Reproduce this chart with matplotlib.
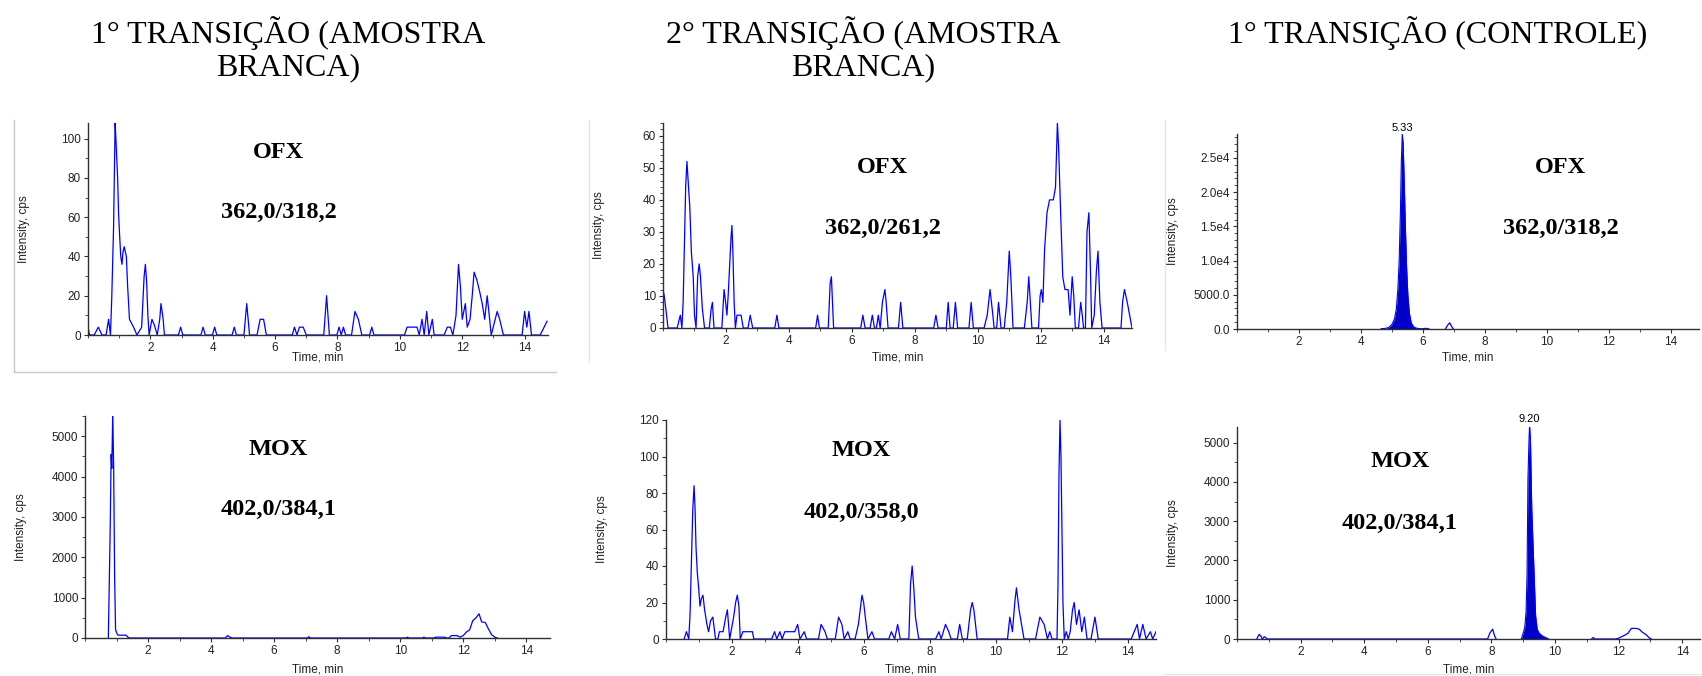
import numpy as np
import matplotlib.pyplot as plt
from matplotlib.ticker import MultipleLocator, FuncFormatter
from matplotlib.lines import Line2D

# 1a transicao, amostra branca - OFX 362,0/318,2
t_ofx_b1 = [0.0, 0.05, 0.2, 0.33, 0.45, 0.58, 0.66, 0.72, 0.76, 0.82, 0.87, 0.90, 0.95, 0.98, 1.01, 1.05, 1.09,
            1.12, 1.16, 1.23, 1.27, 1.33, 1.46, 1.57, 1.72, 1.80, 1.84, 1.88, 1.92, 1.96, 2.05, 2.13, 2.22, 2.30,
            2.34, 2.41, 2.45, 2.9, 2.97, 3.04, 3.62, 3.69, 3.76, 3.99, 4.06, 4.13, 4.62, 4.69, 4.76, 5.0, 5.09,
            5.18, 5.42, 5.52, 5.63, 5.72, 6.55, 6.62, 6.7, 6.78, 6.9, 7.0, 7.56, 7.65, 7.74, 7.98, 8.05, 8.12,
            8.19, 8.26, 8.45, 8.56, 8.67, 8.78, 9.03, 9.10, 9.17, 10.15, 10.23, 10.55, 10.62, 10.71, 10.78, 10.86,
            10.93, 11.04, 11.1, 11.42, 11.52, 11.62, 11.7, 11.8, 11.88, 11.94, 12.0, 12.05, 12.1, 12.16, 12.25,
            12.32, 12.38, 12.47, 12.56, 12.64, 12.72, 12.8, 12.84, 12.93, 13.12, 13.2, 13.32, 13.92, 14.0, 14.07,
            14.14, 14.22, 14.5, 14.72]
i_ofx_b1 = [4, 0, 0, 4, 0, 0, 8, 0, 18, 55, 108, 98, 80, 62, 52, 40, 36,
            42, 45, 40, 25, 8, 4, 0, 4, 30, 36, 27, 10, 0, 8, 5, 0, 8,
            16, 8, 0, 0, 4, 0, 0, 4, 0, 0, 4, 0, 0, 4, 0, 0, 16,
            0, 0, 8, 8, 0, 0, 4, 0, 4, 4, 0, 0, 20, 0, 0, 4, 0,
            4, 0, 0, 12, 8, 0, 0, 4, 0, 0, 4, 4, 0, 8, 0, 12,
            0, 8, 0, 0, 4, 4, 0, 10, 36, 25, 8, 12, 16, 4, 8,
            20, 32, 28, 22, 16, 8, 20, 14, 0, 12, 8, 0, 0, 12, 4,
            12, 0, 0, 7]

# 2a transicao, amostra branca - OFX 362,0/261,2
t_ofx_b2 = [0.0, 0.04, 0.09, 0.16, 0.45, 0.55, 0.6, 0.64, 0.68, 0.72, 0.76, 0.8, 0.85, 0.9, 0.96, 1.0, 1.05,
            1.1, 1.15, 1.19, 1.25, 1.32, 1.47, 1.53, 1.57, 1.62, 1.87, 1.94, 1.99, 2.03, 2.07, 2.11, 2.16, 2.19,
            2.22, 2.26, 2.3, 2.35, 2.48, 2.55, 2.7, 2.77, 2.85, 3.55, 3.62, 3.68, 4.85, 4.91, 4.97, 5.25, 5.31,
            5.35, 5.42, 6.28, 6.35, 6.42, 6.58, 6.65, 6.72, 6.78, 6.84, 6.9, 6.97, 7.05, 7.09, 7.15, 7.48, 7.55,
            7.62, 8.6, 8.67, 8.74, 9.0, 9.06, 9.12, 9.22, 9.29, 9.36, 9.72, 9.79, 9.86, 10.2, 10.3, 10.39, 10.48,
            10.52, 10.6, 10.66, 10.74, 10.84, 10.92, 11.0, 11.05, 11.12, 11.48, 11.57, 11.62, 11.67, 11.72, 11.93,
            11.98, 12.02, 12.07, 12.12, 12.2, 12.28, 12.4, 12.47, 12.53, 12.57, 12.62, 12.7, 12.77, 12.87, 12.93,
            13.0, 13.05, 13.1, 13.2, 13.27, 13.32, 13.36, 13.42, 13.47, 13.53, 13.58, 13.62, 13.7, 13.77, 13.82,
            13.88, 13.95, 14.55, 14.6, 14.66, 14.75, 14.9]
i_ofx_b2 = [12, 10, 6, 0, 0, 4, 0, 8, 26, 44, 52, 46, 38, 24, 16, 4, 0,
            16, 20, 16, 6, 0, 0, 6, 8, 0, 0, 12, 8, 4, 10, 18, 28, 32,
            24, 8, 0, 4, 4, 0, 0, 4, 0, 0, 4, 0, 0, 4, 0, 0, 14,
            16, 0, 0, 4, 0, 0, 4, 0, 0, 4, 0, 8, 12, 8, 0, 0, 8,
            0, 0, 4, 0, 0, 8, 0, 0, 8, 0, 0, 8, 0, 0, 4, 12, 4,
            0, 0, 8, 0, 0, 8, 24, 16, 0, 0, 8, 16, 8, 0, 0,
            10, 12, 8, 24, 36, 40, 40, 44, 64, 56, 40, 16, 12, 12, 4,
            16, 10, 0, 0, 8, 4, 0, 0, 30, 36, 18, 0, 4, 18, 24,
            8, 0, 0, 8, 12, 8, 0]

# 1a transicao, controle - OFX (pico preenchido + pico pequeno)
t_ofx_c_peak = [4.65, 4.8, 4.9, 5.0, 5.08, 5.14, 5.19, 5.23, 5.27, 5.30, 5.33, 5.36, 5.39, 5.43, 5.47, 5.51,
                5.56, 5.62, 5.7, 5.8, 5.95, 6.1, 6.15, 6.2]
i_ofx_c_peak = [50, 100, 250, 700, 1500, 3000, 6000, 10000, 17000, 24500, 28500, 27000, 22000, 15000, 9000, 5000,
                2300, 900, 300, 100, 40, 100, 60, 0]
t_ofx_c = [6.72, 6.8, 6.86, 6.93, 6.98]
i_ofx_c = [0, 600, 900, 300, 0]

# 1a transicao, amostra branca - MOX 402,0/384,1
t_mox_b1 = [0.74, 0.76, 0.80, 0.83, 0.85, 0.88, 0.91, 0.94, 0.97, 1.02, 1.05, 1.3, 1.36, 1.42, 4.45, 4.52,
            4.6, 4.68, 7.05, 7.1, 7.16, 10.18, 10.23, 10.28, 10.7, 10.75, 10.8, 11.05, 11.12, 11.4, 11.47, 11.55,
            11.62, 11.8, 11.9, 12.0, 12.1, 12.2, 12.3, 12.4, 12.5, 12.58, 12.7, 12.8, 12.9, 13.0, 13.08]
i_mox_b1 = [0, 900, 2750, 4550, 4200, 5600, 4150, 1500, 200, 100, 70, 70, 20, 0, 0, 60,
            20, 0, 0, 30, 0, 0, 20, 0, 0, 20, 0, 0, 20, 20, 0, 0,
            60, 60, 20, 60, 150, 200, 430, 500, 600, 400, 380, 220, 80, 20, 0]

# 2a transicao, amostra branca - MOX 402,0/358,0
t_mox_b2 = [0.55, 0.62, 0.69, 0.73, 0.77, 0.81, 0.85, 0.88, 0.91, 0.95, 0.99, 1.03, 1.07, 1.12, 1.17, 1.24,
            1.29, 1.35, 1.42, 1.5, 1.57, 1.62, 1.73, 1.81, 1.86, 1.93, 2.05, 2.11, 2.16, 2.21, 2.25, 2.33, 2.62,
            2.66, 3.2, 3.29, 3.36, 3.45, 3.52, 3.6, 3.9, 3.99, 4.06, 4.19, 4.26, 4.62, 4.7, 4.82, 4.89, 5.13,
            5.23, 5.33, 5.4, 5.51, 5.58, 5.73, 5.83, 5.94, 5.99, 6.04, 6.12, 6.24, 6.32, 6.75, 6.83, 6.93, 7.02,
            7.1, 7.36, 7.41, 7.46, 7.51, 7.56, 7.66, 8.17, 8.27, 8.34, 8.47, 8.57, 8.64, 8.83, 8.9, 8.98, 9.13,
            9.23, 9.28, 9.33, 9.43, 10.35, 10.42, 10.5, 10.57, 10.62, 10.7, 10.85, 11.2, 11.33, 11.46, 11.56,
            11.63, 11.7, 11.85, 11.88, 11.91, 11.94, 11.97, 12.0, 12.03, 12.07, 12.13, 12.19, 12.25, 12.32, 12.37,
            12.44, 12.52, 12.6, 12.68, 12.76, 12.88, 13.0, 13.1, 14.1, 14.28, 14.35, 14.45, 14.55, 14.68, 14.75,
            14.85]
i_mox_b2 = [0, 4, 0, 14, 42, 70, 84, 72, 50, 36, 28, 18, 22, 24, 16, 8,
            4, 10, 12, 0, 0, 4, 4, 12, 16, 0, 12, 20, 24, 18, 0, 4, 4,
            0, 0, 4, 0, 4, 0, 4, 4, 8, 0, 4, 0, 0, 8, 4, 0, 0,
            12, 8, 0, 4, 0, 0, 8, 24, 20, 12, 0, 4, 0, 0, 4, 0, 8,
            0, 0, 30, 40, 28, 12, 0, 0, 4, 0, 8, 4, 0, 0, 8, 0, 0,
            16, 20, 16, 0, 0, 12, 4, 20, 28, 16, 0, 0, 12, 8, 0,
            4, 0, 0, 30, 90, 120, 100, 60, 20, 0, 4, 0, 4, 16, 20,
            8, 16, 4, 12, 0, 0, 12, 0, 0, 8, 0, 8, 0, 4, 0,
            4]

# 1a transicao, controle - MOX
t_mox_c = [0.62, 0.7, 0.76, 0.8, 0.86, 0.92, 0.96, 7.88, 7.95, 8.04, 8.1, 8.15]
i_mox_c = [0, 120, 60, 0, 60, 20, 0, 0, 150, 250, 80, 0]
t_mox_c_peak = [8.94, 9.0, 9.05, 9.09, 9.12, 9.15, 9.18, 9.20, 9.23, 9.27, 9.31, 9.35, 9.39, 9.44, 9.5, 9.6,
                9.7, 9.8]
i_mox_c_peak = [0, 150, 300, 700, 1600, 4100, 5000, 5450, 5000, 3300, 2400, 1500, 600, 250, 150, 80, 40, 0]
t_mox_c2 = [11.15, 11.2, 11.26, 11.9, 12.0, 12.1, 12.2, 12.3, 12.4, 12.55, 12.65, 12.75, 12.85, 12.95, 13.03]
i_mox_c2 = [0, 40, 0, 0, 20, 60, 100, 150, 270, 270, 250, 170, 120, 40, 0]

titles = ["1° TRANSIÇÃO (AMOSTRA\nBRANCA)", "2° TRANSIÇÃO (AMOSTRA\nBRANCA)", "1° TRANSIÇÃO (CONTROLE)"]
labels = [("OFX", "362,0/318,2"), ("OFX", "362,0/261,2"), ("OFX", "362,0/318,2"),
          ("MOX", "402,0/384,1"), ("MOX", "402,0/358,0"), ("MOX", "402,0/384,1")]

W, H = 1702, 676
BLUE = "#0000ff"
FILL = "#0000c8"
AX = "#303030"


def px_axes(fig, x0, x1, ytop, ybot):
    return fig.add_axes([x0 / W, 1 - ybot / H, (x1 - x0) / W, (ybot - ytop) / H])


def style(ax, xmax, ymax, ymaj, ymin, xlab_px=24, ylab_px=58):
    ax.set_xlim(0, xmax)
    ax.set_ylim(0, ymax)
    for s in ["top", "right"]:
        ax.spines[s].set_visible(False)
    for s in ["left", "bottom"]:
        ax.spines[s].set_color(AX)
        ax.spines[s].set_linewidth(1.0)
    ax.xaxis.set_major_locator(MultipleLocator(2))
    ax.xaxis.set_minor_locator(MultipleLocator(1))
    ax.yaxis.set_major_locator(MultipleLocator(ymaj))
    ax.yaxis.set_minor_locator(MultipleLocator(ymin))
    ax.tick_params(which="major", length=3, width=0.8, color=AX, labelsize=8.5, labelcolor="#222222", pad=2)
    ax.tick_params(which="minor", length=2, width=0.6, color=AX)
    ax.set_xticks([t for t in range(2, 15, 2) if t <= xmax])
    ax.set_xlabel("Time, min", fontsize=8.5, color="#222222")
    ax.xaxis.set_label_coords(0.5, -xlab_px / (ax.get_position().height * H), transform=ax.transAxes)
    ax.set_ylabel("Intensity, cps", fontsize=8.5, color="#222222")
    ax.yaxis.set_label_coords(-ylab_px / (ax.get_position().width * W), 0.5, transform=ax.transAxes)


def compound(ax, name, mz, x, y1, y2):
    ax.text(x, y1, name, transform=ax.transAxes, ha="center", va="center",
            family="Liberation Serif", fontweight="bold", fontsize=17.5)
    ax.text(x, y2, mz, transform=ax.transAxes, ha="center", va="center",
            family="Liberation Serif", fontweight="bold", fontsize=17.5)


plt.rcParams["font.family"] = ["Liberation Sans", "DejaVu Sans"]
fig = plt.figure(figsize=(W / 100, H / 100), dpi=100)

# light frames of the pasted screenshots
fig.add_artist(Line2D([14 / W, 14 / W], [1 - 120 / H, 1 - 372 / H], color="#c8c8c8", lw=1))
fig.add_artist(Line2D([14 / W, 556 / W], [1 - 372 / H, 1 - 372 / H], color="#c8c8c8", lw=1))
fig.add_artist(Line2D([589 / W, 589 / W], [1 - 120 / H, 1 - 362 / H], color="#e6e6e6", lw=1))
fig.add_artist(Line2D([1165 / W, 1165 / W], [1 - 120 / H, 1 - 350 / H], color="#e6e6e6", lw=1))
fig.add_artist(Line2D([1165 / W, 1702 / W], [1 - 674 / H, 1 - 674 / H], color="#e6e6e6", lw=1))

fig.text(288 / W, 1 - 49 / H, titles[0], ha="center", va="center", family="Liberation Serif",
         fontsize=23, linespacing=1.12)
fig.text(863 / W, 1 - 49 / H, titles[1], ha="center", va="center", family="Liberation Serif",
         fontsize=23, linespacing=1.12)
fig.text(1438 / W, 1 - 33 / H, titles[2], ha="center", va="center", family="Liberation Serif",
         fontsize=23, linespacing=1.12)

# top row
ax1 = px_axes(fig, 88, 548, 123, 335)
ax1.plot(t_ofx_b1, i_ofx_b1, color=BLUE, lw=0.9)
style(ax1, 14.75, 108, 20, 10, xlab_px=17)
compound(ax1, *labels[0], 0.415, 0.863, 0.58)

ax2 = px_axes(fig, 663, 1132, 123, 328)
ax2.plot(t_ofx_b2, i_ofx_b2, color=BLUE, lw=0.9)
style(ax2, 14.9, 64, 10, 2)
compound(ax2, *labels[1], 0.468, 0.785, 0.488)

ax3 = px_axes(fig, 1237, 1699, 134, 329)
ax3.fill_between(t_ofx_c_peak, i_ofx_c_peak, color=FILL, lw=0)
ax3.plot(t_ofx_c_peak, i_ofx_c_peak, color=BLUE, lw=0.8)
ax3.plot(t_ofx_c, i_ofx_c, color=BLUE, lw=0.9)
style(ax3, 14.9, 28500, 5000, 1000, xlab_px=23)
ax3.yaxis.set_major_formatter(FuncFormatter(lambda v, p: "%.1f" % v if v < 10000 else "%.1fe4" % (v / 1e4)))
compound(ax3, *labels[2], 0.70, 0.826, 0.518)
k = int(np.argmax(i_ofx_c_peak))
ax3.annotate("%.2f" % t_ofx_c_peak[k], (t_ofx_c_peak[k], i_ofx_c_peak[k]), xytext=(0, 1),
             textcoords="offset points", ha="center", va="bottom", fontsize=8, annotation_clip=False)

# bottom row
ax4 = px_axes(fig, 85, 550, 416, 638)
ax4.plot(t_mox_b1, i_mox_b1, color=BLUE, lw=0.9)
style(ax4, 14.75, 5500, 1000, 500, xlab_px=25)
compound(ax4, *labels[3], 0.416, 0.847, 0.577)

ax5 = px_axes(fig, 666, 1156, 420, 639)
ax5.plot(t_mox_b2, i_mox_b2, color=BLUE, lw=0.9)
style(ax5, 14.85, 120, 20, 10, xlab_px=24)
compound(ax5, *labels[4], 0.398, 0.863, 0.58)

ax6 = px_axes(fig, 1237, 1700, 427, 639)
ax6.plot(t_mox_c, i_mox_c, color=BLUE, lw=0.9)
ax6.fill_between(t_mox_c_peak, i_mox_c_peak, color=FILL, lw=0)
ax6.plot(t_mox_c_peak, i_mox_c_peak, color=BLUE, lw=0.8)
ax6.plot(t_mox_c2, i_mox_c2, color=BLUE, lw=0.9)
style(ax6, 14.56, 5400, 1000, 500, xlab_px=24)
compound(ax6, *labels[5], 0.352, 0.835, 0.547)
k = int(np.argmax(i_mox_c_peak))
ax6.annotate("%.2f" % t_mox_c_peak[k], (t_mox_c_peak[k], i_mox_c_peak[k]), xytext=(0, 1),
             textcoords="offset points", ha="center", va="bottom", fontsize=8, annotation_clip=False)

fig.savefig("out.png", dpi=100)
